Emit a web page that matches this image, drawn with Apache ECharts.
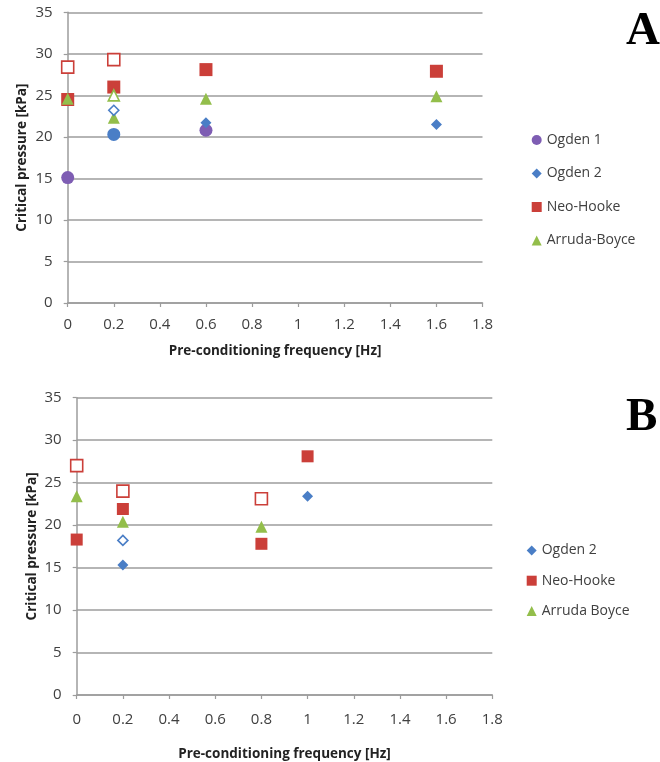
<!DOCTYPE html>
<html>
<head>
<meta charset="utf-8">
<script src="https://cdn.jsdelivr.net/npm/echarts@6/dist/echarts.min.js"></script>
<style>
  html, body { margin: 0; padding: 0; background: #fff; }
  #chart { width: 660px; height: 762px; }
</style>
</head>
<body>
<div id="chart"></div>
<script>
// ---- Panel A: critical pressure vs pre-conditioning frequency ----
const ogden1A_x = [0, 0.2, 0.6];
const ogden1A_y = [15.1, 20.3, 20.8];
const ogden2A_x = [0.6, 1.6];
const ogden2A_y = [21.7, 21.5];
const neoA_x = [0, 0.2, 0.6, 1.6];
const neoA_y = [24.5, 26.0, 28.1, 27.9];
const arrudaA_x = [0, 0.2, 0.6, 1.6];
const arrudaA_y = [24.6, 22.3, 24.6, 24.9];
// open (hollow) markers, panel A
const neoOpenA_x = [0, 0.2];
const neoOpenA_y = [28.4, 29.3];
const ogden2OpenA_x = [0.2];
const ogden2OpenA_y = [23.2];
const arrudaOpenA_x = [0.2];
const arrudaOpenA_y = [25.0];

// ---- Panel B ----
const ogden2B_x = [0.2, 1.0];
const ogden2B_y = [15.3, 23.4];
const neoB_x = [0, 0.2, 0.8, 1.0];
const neoB_y = [18.3, 21.9, 17.8, 28.1];
const arrudaB_x = [0, 0.2, 0.8];
const arrudaB_y = [23.4, 20.4, 19.8];
const neoOpenB_x = [0, 0.2, 0.8];
const neoOpenB_y = [27.0, 24.0, 23.1];
const ogden2OpenB_x = [0.2];
const ogden2OpenB_y = [18.2];

const legendA = ['Ogden 1', 'Ogden 2', 'Neo-Hooke', 'Arruda-Boyce'];
const legendB = ['Ogden 2', 'Neo-Hooke', 'Arruda Boyce'];
const yTicks = { min: 0, max: 35, interval: 5 };
const xTicks = { min: 0, max: 1.8, interval: 0.2 };

const C = {
  purple: '#7E5DB3',
  blue: '#4A7EC6',
  red: '#CB3F39',
  green: '#93BE4B',
  grid: '#9c9c9c',
  text: '#404040'
};
const FONT = '"Open Sans", "Liberation Sans", sans-serif';

function pts(xs, ys) { return xs.map((x, i) => [x, ys[i]]); }

function xAxis(gridIndex, labelMargin, nameGap) {
  return {
    type: 'value', gridIndex, min: xTicks.min, max: xTicks.max, interval: xTicks.interval,
    name: 'Pre-conditioning frequency [Hz]', nameLocation: 'middle', nameGap,
    nameMoveOverlap: false,
    nameTextStyle: { fontFamily: FONT, fontWeight: 'bold', fontSize: 13.5, color: '#222' },
    axisLine: { onZero: false, lineStyle: { color: C.grid, width: 1.5 } },
    axisTick: { show: true, length: 4, lineStyle: { color: C.grid, width: 1.2 } },
    axisLabel: { margin: labelMargin, fontFamily: FONT, fontSize: 15, color: C.text },
    splitLine: { show: false }
  };
}
function yAxis(gridIndex, labelMargin, nameGap) {
  return {
    type: 'value', gridIndex, min: yTicks.min, max: yTicks.max, interval: yTicks.interval,
    name: 'Critical pressure [kPa]', nameLocation: 'middle', nameGap,
    nameMoveOverlap: false,
    nameTextStyle: { fontFamily: FONT, fontWeight: 'bold', fontSize: 13.5, color: '#222' },
    axisLine: { show: true, lineStyle: { color: C.grid, width: 1.5 } },
    axisTick: { show: true, length: 4, lineStyle: { color: C.grid, width: 1.2 } },
    axisLabel: { margin: labelMargin, fontFamily: FONT, fontSize: 15, color: C.text },
    splitLine: { show: true, lineStyle: { color: C.grid, width: 1.6 } }
  };
}

function filled(name, idx, symbol, size, color, data, z) {
  return { type: 'scatter', name, xAxisIndex: idx, yAxisIndex: idx, symbol, symbolSize: size,
    itemStyle: { color, opacity: 1 }, data, z: z || 2, emphasis: { disabled: true } };
}
function hollow(name, idx, symbol, size, color, data) {
  return { type: 'scatter', name, xAxisIndex: idx, yAxisIndex: idx, symbol, symbolSize: size,
    itemStyle: { color: '#fff', borderColor: color, borderWidth: 1.6, opacity: 1 }, data, z: 3,
    emphasis: { disabled: true } };
}

// Ogden 1 at 0.2 Hz is drawn in blue
const ogden1AData = pts(ogden1A_x, ogden1A_y).map((p, i) =>
  ogden1A_x[i] === 0.2 ? { value: p, itemStyle: { color: C.blue } } : p);

const option = {
  animation: false,
  backgroundColor: '#fff',
  grid: [
    { left: 67.7, top: 12.3, width: 414.8, height: 290.7 },
    { left: 76.7, top: 397.7, width: 415.6, height: 301.6 }
  ],
  xAxis: [xAxis(0, 14, 41), xAxis(1, 17, 52)],
  yAxis: [yAxis(0, 15, 39), yAxis(1, 15, 38)],
  legend: [
    { data: legendA, orient: 'vertical', left: 526.7, top: 127, itemWidth: 10, itemHeight: 10,
      itemGap: 17.5, textStyle: { fontFamily: FONT, fontSize: 14, color: C.text, lineHeight: 16 },
      selectedMode: false },
    { data: legendB, orient: 'vertical', left: 521.7, top: 537.5, itemWidth: 10, itemHeight: 10,
      itemGap: 14.2, textStyle: { fontFamily: FONT, fontSize: 14, color: C.text, lineHeight: 16 },
      selectedMode: false }
  ],
  graphic: [
    { type: 'text', left: 626, top: 8, style: { text: 'A', font: 'bold 47px "Liberation Serif", "DejaVu Serif", serif', fill: '#000' } },
    { type: 'text', left: 626, top: 394, style: { text: 'B', font: 'bold 47px "Liberation Serif", "DejaVu Serif", serif', fill: '#000' } }
  ],
  series: [
    { type: 'scatter', name: 'Ogden 1', xAxisIndex: 0, yAxisIndex: 0, symbol: 'circle', symbolSize: 13,
      itemStyle: { color: C.purple, opacity: 1 }, data: ogden1AData, z: 2, emphasis: { disabled: true } },
    filled('Ogden 2', 0, 'diamond', 11, C.blue, pts(ogden2A_x, ogden2A_y)),
    filled('Neo-Hooke', 0, 'rect', 13, C.red, pts(neoA_x, neoA_y)),
    filled('Arruda-Boyce', 0, 'triangle', 12, C.green, pts(arrudaA_x, arrudaA_y)),
    hollow('Neo-Hooke open A', 0, 'rect', 12, C.red, pts(neoOpenA_x, neoOpenA_y)),
    hollow('Ogden 2 open A', 0, 'diamond', 10, C.blue, pts(ogden2OpenA_x, ogden2OpenA_y)),
    hollow('Arruda-Boyce open A', 0, 'triangle', 11, C.green, pts(arrudaOpenA_x, arrudaOpenA_y)),

    filled('Ogden 2', 1, 'diamond', 11, C.blue, pts(ogden2B_x, ogden2B_y)),
    filled('Neo-Hooke', 1, 'rect', 12, C.red, pts(neoB_x, neoB_y)),
    filled('Arruda Boyce', 1, 'triangle', 12, C.green, pts(arrudaB_x, arrudaB_y)),
    hollow('Neo-Hooke open B', 1, 'rect', 12, C.red, pts(neoOpenB_x, neoOpenB_y)),
    hollow('Ogden 2 open B', 1, 'diamond', 10, C.blue, pts(ogden2OpenB_x, ogden2OpenB_y))
  ]
};

const chart = echarts.init(document.getElementById('chart'), null, { renderer: 'canvas' });
chart.setOption(option);
</script>
</body>
</html>
